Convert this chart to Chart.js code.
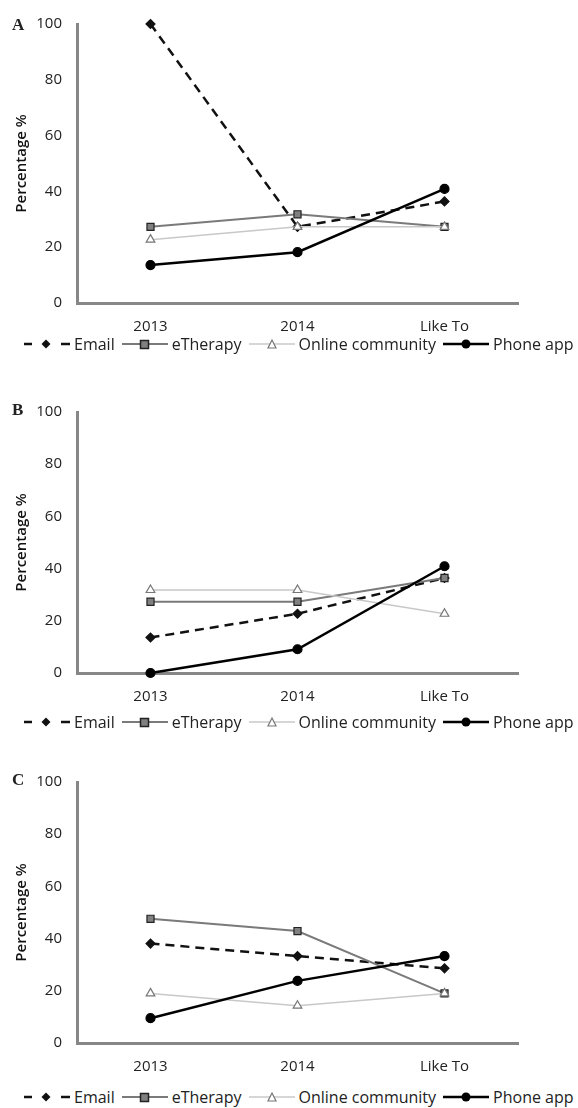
<!DOCTYPE html>
<html lang="en">
<head>
    <meta charset="UTF-8">
    <title>Percentage by channel</title>
    <script src="https://cdn.jsdelivr.net/npm/chart.js"></script>
    <style>
        body { margin: 0; background: #fff; }
        .page { position: relative; width: 578px; height: 1108px; overflow: hidden; font-family: "Open Sans", sans-serif; color: #222; }
        .panel-canvas { position: absolute; left: 0; width: 578px; }
        .letter { position: absolute; left: 12px; font-family: "Liberation Serif", serif; font-weight: bold; font-size: 17px; line-height: 17px; }
        .legend { position: absolute; left: 24px; width: 570px; height: 20px; display: flex; align-items: center; white-space: nowrap; font-size: 16px; color: #222; }
        .legend .item { display: flex; align-items: center; margin-right: 7px; }
        .legend svg { margin-right: 4px; }
    </style>
</head>
<body>
<div class="page" id="page"></div>

<script>
    // categories and series
    const categories = ['2013', '2014', 'Like To'];
    const seriesNames = ['Email', 'eTherapy', 'Online community', 'Phone app'];
    const yTicks = [0, 20, 40, 60, 80, 100];

    const emailA = [100, 27.3, 36.4];
    const eTherapyA = [27.3, 31.8, 27.3];
    const onlineA = [22.7, 27.3, 27.3];
    const phoneA = [13.6, 18.2, 40.9];

    const emailB = [13.6, 22.7, 36.4];
    const eTherapyB = [27.3, 27.3, 36.4];
    const onlineB = [31.8, 31.8, 22.7];
    const phoneB = [0, 9.1, 40.9];

    const emailC = [38.1, 33.3, 28.6];
    const eTherapyC = [47.6, 42.9, 19.0];
    const onlineC = [19.0, 14.3, 19.0];
    const phoneC = [9.5, 23.8, 33.3];

    // panel placement (chart area top/bottom in page pixels)
    const panels = [
        { letter: 'A', top: 22, bottom: 303, letterY: 16, legendY: 334, data: [emailA, eTherapyA, onlineA, phoneA] },
        { letter: 'B', top: 410, bottom: 673, letterY: 401, legendY: 712, data: [emailB, eTherapyB, onlineB, phoneB] },
        { letter: 'C', top: 780, bottom: 1043, letterY: 771, legendY: 1087, data: [emailC, eTherapyC, onlineC, phoneC] }
    ];

    const styles = [
        { color: '#111', width: 2.5, dash: [9, 6], point: 'rectRot', radius: 4.5, fill: '#111', border: '#111' },
        { color: '#7a7a7a', width: 2, dash: [], point: 'rect', radius: 5, fill: '#808080', border: '#222' },
        { color: '#c8c8c8', width: 1.5, dash: [], point: 'triangle', radius: 5, fill: '#fff', border: '#777' },
        { color: '#000', width: 2.5, dash: [], point: 'circle', radius: 4.5, fill: '#000', border: '#000' }
    ];

    const legendIcons = [
        '<svg width="46" height="12"><line x1="0" y1="6" x2="8" y2="6" stroke="#111" stroke-width="2.5"/><path d="M22 1.5 L26.5 6 L22 10.5 L17.5 6 Z" fill="#111"/><line x1="37" y1="6" x2="46" y2="6" stroke="#111" stroke-width="2.5"/></svg>',
        '<svg width="46" height="12"><line x1="0" y1="6" x2="46" y2="6" stroke="#7a7a7a" stroke-width="2"/><rect x="18.5" y="2.5" width="8" height="8" fill="#808080" stroke="#222" stroke-width="1.5"/></svg>',
        '<svg width="46" height="12"><line x1="0" y1="6" x2="46" y2="6" stroke="#c8c8c8" stroke-width="1.5"/><path d="M23 2 L27 10 L19 10 Z" fill="#fff" stroke="#777" stroke-width="1.2"/></svg>',
        '<svg width="46" height="12"><line x1="0" y1="6" x2="46" y2="6" stroke="#000" stroke-width="2.5"/><circle cx="23" cy="6" r="4.5" fill="#000"/></svg>'
    ];

    const font = { family: 'Open Sans', size: 15 };
    const axisHeight = 40;
    const page = document.getElementById('page');

    panels.forEach(p => {
        const canvasTop = p.top - 22;
        const canvasHeight = (p.bottom - p.top) + 22 + axisHeight;

        const holder = document.createElement('div');
        holder.className = 'panel-canvas';
        holder.style.top = canvasTop + 'px';
        holder.style.height = canvasHeight + 'px';
        const canvas = document.createElement('canvas');
        holder.appendChild(canvas);
        page.appendChild(holder);

        const letter = document.createElement('div');
        letter.className = 'letter';
        letter.style.top = p.letterY + 'px';
        letter.textContent = p.letter;
        page.appendChild(letter);

        const legend = document.createElement('div');
        legend.className = 'legend';
        legend.style.top = p.legendY + 'px';
        legend.innerHTML = seriesNames.map((name, i) =>
            `<span class="item">${legendIcons[i]}<span>${name}</span></span>`).join('');
        page.appendChild(legend);

        new Chart(canvas, {
            type: 'line',
            data: {
                labels: categories,
                datasets: seriesNames.map((name, i) => ({
                    label: name,
                    data: p.data[i],
                    borderColor: styles[i].color,
                    borderWidth: styles[i].width,
                    borderDash: styles[i].dash,
                    pointStyle: styles[i].point,
                    pointRadius: styles[i].radius,
                    pointBackgroundColor: styles[i].fill,
                    pointBorderColor: styles[i].border,
                    pointBorderWidth: 1.2,
                    tension: 0,
                    fill: false,
                    clip: false
                })).reverse()
            },
            options: {
                responsive: true,
                maintainAspectRatio: false,
                animation: false,
                layout: { padding: { top: 22, right: 60, left: 0, bottom: 0 } },
                plugins: {
                    legend: { display: false },
                    tooltip: { enabled: false }
                },
                scales: {
                    x: {
                        offset: true,
                        grid: { display: false, drawTicks: false },
                        border: { color: '#878787', width: 3 },
                        ticks: { padding: 15, font: font, color: '#222' },
                        afterFit: s => { s.height = axisHeight; }
                    },
                    y: {
                        min: 0,
                        max: 100,
                        afterBuildTicks: s => { s.ticks = yTicks.map(v => ({ value: v })); },
                        grid: { display: false, drawTicks: false },
                        border: { color: '#878787', width: 3 },
                        ticks: { padding: 15, font: font, color: '#222' },
                        title: {
                            display: true,
                            text: 'Percentage %',
                            color: '#111',
                            padding: { top: 13, bottom: 0 },
                            font: { family: 'Open Sans', size: 15, weight: '600' }
                        },
                        afterFit: s => { s.width = 77; }
                    }
                }
            }
        });
    });
</script>
</body>
</html>
